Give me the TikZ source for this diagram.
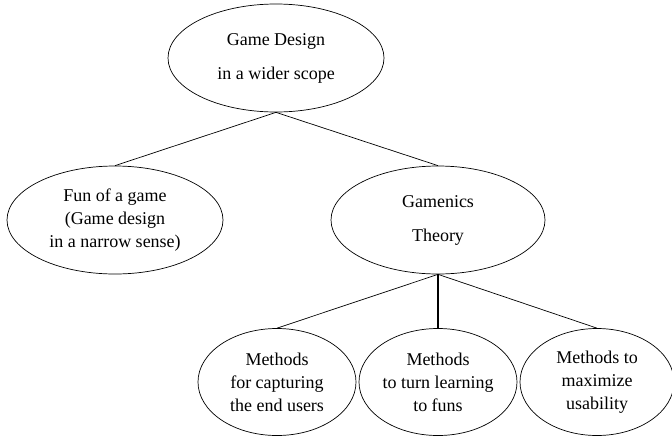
\documentclass[tikz,border=0pt]{standalone}
\usepackage{fontspec}
\setmainfont{Liberation Serif}
\usepackage{tikz}
\usetikzlibrary{shapes.geometric}

\tikzset{
    bubble/.style={draw,ellipse,inner sep=0pt,line width=0.7pt,align=center,
        font=\fontsize{18}{23}\selectfont},
    bigbubble/.style={bubble,minimum width=216pt,minimum height=108pt},
    smallbubble/.style={bubble,minimum width=158pt,minimum height=107pt},
    link/.style={line width=0.7pt}
}

\begin{document}
\begin{tikzpicture}[x=1pt,y=-1pt]
    \useasboundingbox (0,0) rectangle (672,437);
    \node[bigbubble] (design) at (276,58) {Game Design\\[11pt]in a wider scope};
    \node[bigbubble] (fun) at (115,220) {Fun of a game\\(Game design\\in a narrow sense)};
    \node[bigbubble,minimum width=214pt] (gamenics) at (438,220) {Gamenics\\[11pt]Theory};
    \node[smallbubble] (capture) at (277,382) {Methods\\for capturing\\the end users};
    \node[smallbubble] (learning) at (438,382) {Methods\\to turn learning\\to funs};
    \node[smallbubble,minimum width=154pt] (usability) at (597,382) {Methods to\\maximize\\usability};
    \draw[link] (design.south) -- (fun.north);
    \draw[link] (design.south) -- (gamenics.north);
    \draw[link] (gamenics.south) -- (capture.north);
    \draw[line width=1.6pt] (gamenics.south) -- (learning.north);
    \draw[link] (gamenics.south) -- (usability.north);
\end{tikzpicture}
\end{document}
